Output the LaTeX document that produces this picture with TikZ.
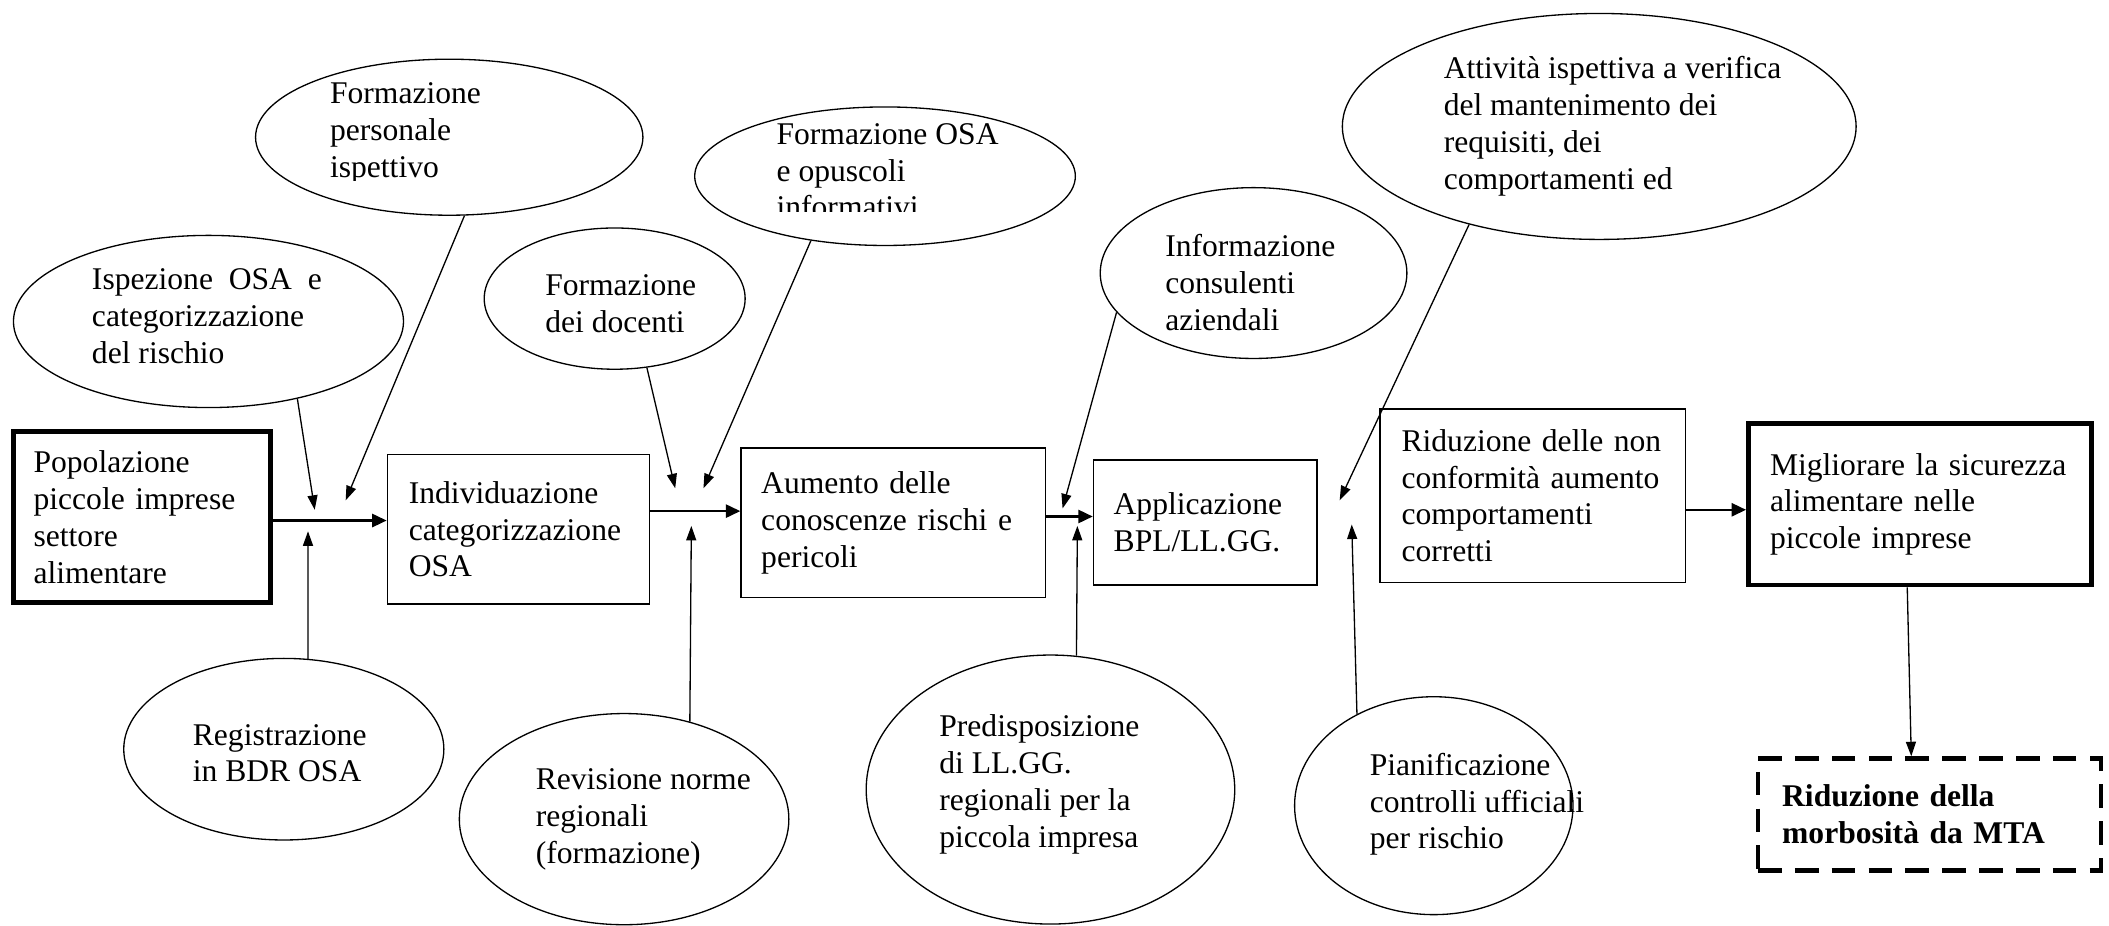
\documentclass[tikz,border=0pt]{standalone}
\usepackage{fontspec}
\setmainfont{Liberation Serif}
\usetikzlibrary{shapes.geometric,arrows.meta}
\tikzset{
  ell/.style={draw, ellipse, line width=0.5pt, inner sep=0pt},
  esz/.style n args={2}{minimum width=#1*0.511pt, minimum height=#2*0.511pt},
  txt/.style={align=left, inner sep=0pt, anchor=west},
  box/.style={draw, rectangle, line width=0.5pt, align=left, inner ysep=0pt},
  thickbox/.style={line width=1.8pt},
  dashbox/.style={line width=1.8pt, dash pattern=on 9pt off 5pt},
  main/.style={line width=0.9pt, -{Triangle[length=5.5pt,width=5pt]}},
  conn/.style={line width=0.5pt, -{Triangle[length=5.5pt,width=3.8pt]}}
}
\begin{document}
\begin{tikzpicture}[x=0.511pt,y=-0.511pt,
  every node/.style={font=\fontsize{12}{14}\selectfont}]
\useasboundingbox (0,0) rectangle (1568,688);

% ellipses
\node[ell, esz={288}{116}] (e1) at (334,102) {};
\node[ell, esz={290}{128}] (e2) at (155,239) {};
\node[ell, esz={194}{105}] (e3) at (457,222) {};
\node[ell, esz={283}{103}] (e4) at (658,131) {};
\node[ell, esz={228}{127}] (e5) at (932,203) {};
\node[ell, esz={382}{168}] (e6) at (1189,94) {};
\node[ell, esz={238}{135}] (e7) at (211,557) {};
\node[ell, esz={245}{157}] (e8) at (464,609) {};
\node[ell, esz={274}{200}] (e9) at (781,587) {};
\node[ell, esz={207}{162}] (e10) at (1066,599) {};

% ellipse texts (two of them cut off at the bottom, as in the original text boxes)
\begin{scope}
  \clip (200,40) rectangle (480,134);
  \node[txt] (t1) at (245,99) {Formazione\\personale\\ispettivo};
\end{scope}
\node[txt] (t2) at (68,235) {Ispezione\ \ OSA\ \ e\\categorizzazione\\del rischio};
\node[txt] (t3) at (405,226) {Formazione\\dei docenti};
\begin{scope}
  \clip (540,60) rectangle (800,157);
  \node[txt] (t4) at (577,127) {Formazione OSA\\e opuscoli\\informativi};
\end{scope}
\node[txt] (t5) at (866,210) {Informazione\\consulenti\\aziendali};
\node[txt] (t6) at (1073,94) {Attività ispettiva a verifica\\del mantenimento dei\\requisiti, dei\\comportamenti ed};
\node[txt] (t7) at (143,560) {Registrazione\\in BDR OSA};
\node[txt] (t8) at (398,609) {Revisione norme\\regionali\\(formazione)};
\node[txt] (t9) at (698,583) {Predisposizione\\di LL.GG.\\regionali per la\\piccola impresa};
\node[txt] (t10) at (1018,598) {Pianificazione\\controlli ufficiali\\per rischio};

% boxes
\node[box, thickbox, text width=82.3pt, inner xsep=7.7pt, minimum height=64.9pt] (A) at (105.5,384.5)
  {Popolazione\\piccole imprese\\settore\\alimentare};
\node[box, text width=83.3pt, inner xsep=8.2pt, minimum height=56.7pt] (B) at (385.5,393.5)
  {Individuazione\\categorizzazione\\OSA};
\node[box, text width=100.2pt, inner xsep=7.7pt, minimum height=56.7pt] (C) at (664,388.5)
  {Aumento delle\\conoscenze rischi e\\pericoli};
\node[box, text width=69.5pt, inner xsep=7.7pt, minimum height=47.5pt] (D) at (896,388.5)
  {Applicazione\\BPL/LL.GG.};
\node[box, text width=99.6pt, inner xsep=8.2pt, minimum height=65.9pt] (E) at (1139.5,368.5)
  {Riduzione delle non\\conformità~aumento\\comportamenti\\corretti};
\node[box, thickbox, text width=114pt, inner xsep=8.2pt, minimum height=61.3pt] (F) at (1427.5,375)
  {Migliorare~la~sicurezza\\alimentare nelle\\piccole imprese};
\node[box, dashbox, text width=111.9pt, inner xsep=9.2pt, minimum height=42.4pt, font=\fontsize{12}{14}\selectfont\bfseries] (G) at (1434.5,605.5)
  {Riduzione della\\morbosità da MTA};

% free ends
\coordinate (p1) at (234,379);
\coordinate (p2) at (257,372);
\coordinate (p3) at (229,395);
\coordinate (p4) at (502,363);
\coordinate (p5) at (523,363);
\coordinate (p6) at (514,391);
\coordinate (p7) at (790,378);
\coordinate (p8) at (801,391);
\coordinate (p9) at (996,372);
\coordinate (p10) at (1005,390);

% main flow
\draw[main] (A.east |- 0,387) -- (B.west |- 0,387);
\draw[main] (B.east |- 0,380) -- (C.west |- 0,380);
\draw[main] (C.east |- 0,384) -- (D.west |- 0,384);
\draw[main] (E.east |- 0,379) -- (F.west |- 0,379);
\draw[conn] (F.south -| 1418,0) -- (G.north -| 1421,0);

% influences
\draw[conn] (e2.319) -- (p1);
\draw[conn] (e1.281) -- (p2);
\draw[conn] (e7.75) -- (p3);
\draw[conn] (e3.295) -- (p4);
\draw[conn] (e4.221) -- (p5);
\draw[conn] (e8.56) -- (p6);
\draw[conn] (e5.196) -- (p7);
\draw[conn] (e9.79) -- (p8);
\draw[conn] (e6.217) -- (p9);
\draw[conn] (e10.130) -- (p10);
\end{tikzpicture}
\end{document}
